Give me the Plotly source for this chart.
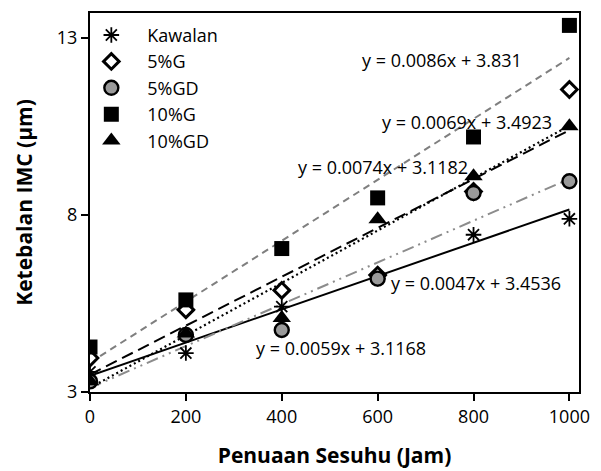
import plotly.graph_objects as go

# ---- data ----
hours = [0, 200, 400, 600, 800, 1000]
series_names = ["Kawalan", "5%G", "5%GD", "10%G", "10%GD"]
kawalan = [3.57, 4.10, 5.41, 6.20, 7.44, 7.89]
g5 = [3.96, 5.32, 5.87, 6.30, 8.66, 11.54]
gd5 = [3.30, 4.61, 4.75, 6.20, 8.62, 8.95]
g10 = [4.27, 5.60, 7.05, 8.48, 10.20, 13.35]
gd10 = [3.30, 4.65, 5.09, 7.88, 9.09, 10.50]

# trendline coefficients (slope, intercept) as printed on the chart
slopes = [0.0047, 0.0069, 0.0059, 0.0086, 0.0074]
intercepts = [3.4536, 3.4923, 3.1168, 3.831, 3.1182]
# label anchor positions in data coords (x, y)
label_x = [805, 786, 523, 734, 611]
label_y = [6.08, 10.61, 4.24, 12.36, 9.34]

x_ticks = [0, 200, 400, 600, 800, 1000]
y_ticks = [3, 8, 13]

FONT = "Open Sans"

values = [kawalan, g5, gd5, g10, gd10]
marker_styles = [
    dict(symbol="asterisk-open", size=13, color="black", line=dict(color="black", width=1.8)),
    dict(symbol="diamond", size=12, color="white", line=dict(color="black", width=3)),
    dict(symbol="circle", size=14, color="#9a9a9a", line=dict(color="black", width=2.4)),
    dict(symbol="square", size=15, color="black", line=dict(color="black", width=0)),
    dict(symbol="triangle-up", size=16, color="black", line=dict(color="black", width=0)),
]
line_styles = [
    dict(color="black", width=2, dash="solid"),
    dict(color="black", width=2, dash="12px,6px"),
    dict(color="#8c8c8c", width=2, dash="12px,5px,2px,5px,2px,5px"),
    dict(color="#7f7f7f", width=2, dash="7px,5px"),
    dict(color="black", width=2.2, dash="2px,3px"),
]

fig = go.Figure()

# trendlines
for i in range(len(series_names)):
    xs = [x_ticks[0], x_ticks[-1]]
    ys = [slopes[i] * v + intercepts[i] for v in xs]
    fig.add_trace(go.Scatter(x=xs, y=ys, mode="lines", line=line_styles[i],
                             showlegend=False, hoverinfo="skip"))

# data points
for i, name in enumerate(series_names):
    fig.add_trace(go.Scatter(x=hours, y=values[i], mode="markers", name=name,
                             marker=marker_styles[i]))

# equation labels
for i in range(len(series_names)):
    fig.add_annotation(x=label_x[i], y=label_y[i], xref="x", yref="y",
                       text=f"y = {slopes[i]}x + {intercepts[i]}",
                       showarrow=False, font=dict(family=FONT, size=18, color="black"))

fig.update_layout(
    width=593, height=463,
    margin=dict(l=82, r=22, t=5, b=79),
    paper_bgcolor="white", plot_bgcolor="white",
    font=dict(family=FONT, size=18, color="black"),
    showlegend=True,
    legend=dict(x=-0.03, y=0.99, xanchor="left", yanchor="top",
                bgcolor="rgba(0,0,0,0)", font=dict(family=FONT, size=18),
                itemwidth=62, tracegroupgap=0),
)
fig.update_xaxes(range=[0, 1020], tickvals=x_ticks, showgrid=False, zeroline=False,
                 showline=True, linecolor="black", linewidth=2, mirror=True,
                 ticks="outside", ticklen=7, tickwidth=1.5, tickcolor="black",
                 tickfont=dict(family=FONT, size=18), automargin=False,
                 title=dict(text="<b>Penuaan Sesuhu (Jam)</b>", standoff=22,
                            font=dict(family=FONT, size=21)))
fig.update_yaxes(range=[3, 13.7], tickvals=y_ticks, showgrid=False, zeroline=False,
                 showline=True, linecolor="black", linewidth=2, mirror=True,
                 ticks="outside", ticklen=7, tickwidth=1.5, tickcolor="black",
                 tickfont=dict(family=FONT, size=18), automargin=False,
                 title=dict(text="<b>Ketebalan IMC (µm)</b>", standoff=18,
                            font=dict(family=FONT, size=21)))

fig.write_html("out.html")
